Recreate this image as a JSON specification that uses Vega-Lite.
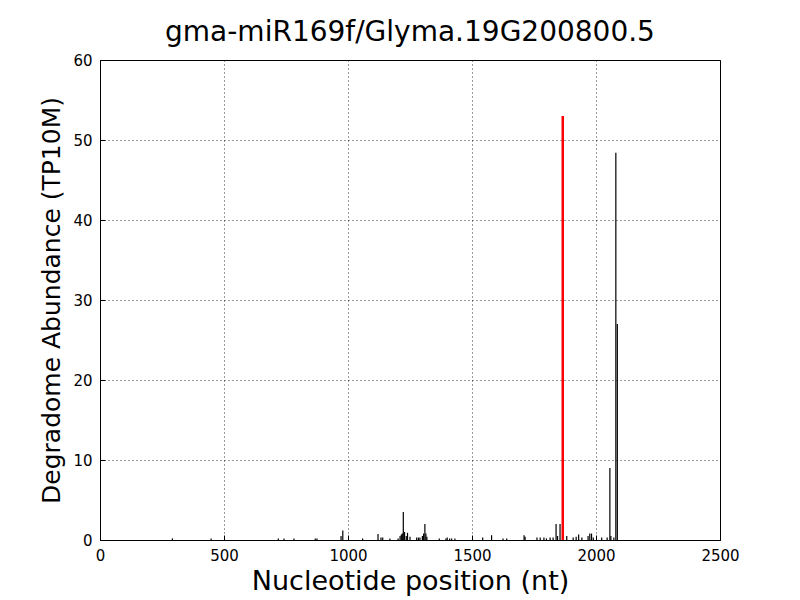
{
  "$schema": "https://vega.github.io/schema/vega-lite/v6.json",
  "width": 620,
  "height": 480,
  "autosize": {"type": "none"},
  "padding": {"left": 100, "top": 60, "right": 80, "bottom": 60},
  "background": "white",
  "title": {"text": "gma-miR169f/Glyma.19G200800.5", "font": "DejaVu Sans", "fontSize": 28, "fontWeight": "normal", "color": "black", "offset": 6},
  "config": {
    "view": {"stroke": "black", "strokeWidth": 1},
    "axis": {"labelFont": "DejaVu Sans", "titleFont": "DejaVu Sans", "labelFontSize": 15, "titleFontSize": 25, "titleFontWeight": "normal", "labelColor": "black", "titleColor": "black", "domainColor": "black", "tickColor": "black", "tickSize": -5, "gridColor": "black", "gridDash": [1, 3], "gridOpacity": 1, "gridWidth": 0.8, "labelPadding": 13, "labelFlush": false}
  },
  "datasets": {
    "black": [
      {"pos": 292, "val": 0.2}, {"pos": 448, "val": 0.2}, {"pos": 719, "val": 0.2}, {"pos": 742, "val": 0.2},
      {"pos": 782, "val": 0.2}, {"pos": 868, "val": 0.2}, {"pos": 875, "val": 0.2}, {"pos": 972, "val": 0.5},
      {"pos": 979, "val": 1.2}, {"pos": 1059, "val": 0.2}, {"pos": 1121, "val": 0.75}, {"pos": 1133, "val": 0.3},
      {"pos": 1140, "val": 0.3}, {"pos": 1169, "val": 0.2}, {"pos": 1202, "val": 0.2}, {"pos": 1210, "val": 0.5},
      {"pos": 1215, "val": 0.7}, {"pos": 1219, "val": 0.8}, {"pos": 1223, "val": 3.5}, {"pos": 1228, "val": 1.0},
      {"pos": 1235, "val": 0.5}, {"pos": 1240, "val": 0.9}, {"pos": 1250, "val": 0.4}, {"pos": 1277, "val": 0.3},
      {"pos": 1284, "val": 0.3}, {"pos": 1290, "val": 0.3}, {"pos": 1300, "val": 0.5}, {"pos": 1305, "val": 0.8},
      {"pos": 1310, "val": 2.0}, {"pos": 1314, "val": 0.8}, {"pos": 1318, "val": 0.4}, {"pos": 1368, "val": 0.2},
      {"pos": 1395, "val": 0.2}, {"pos": 1400, "val": 0.3}, {"pos": 1410, "val": 0.2}, {"pos": 1418, "val": 0.2},
      {"pos": 1431, "val": 0.2}, {"pos": 1543, "val": 0.3}, {"pos": 1579, "val": 0.6}, {"pos": 1625, "val": 0.2},
      {"pos": 1640, "val": 0.2}, {"pos": 1710, "val": 0.6}, {"pos": 1714, "val": 0.4}, {"pos": 1762, "val": 0.3},
      {"pos": 1775, "val": 0.3}, {"pos": 1790, "val": 0.3}, {"pos": 1800, "val": 0.2}, {"pos": 1815, "val": 0.3},
      {"pos": 1827, "val": 0.3}, {"pos": 1839, "val": 2.0}, {"pos": 1845, "val": 0.5}, {"pos": 1855, "val": 2.0},
      {"pos": 1882, "val": 0.5}, {"pos": 1908, "val": 0.3}, {"pos": 1920, "val": 0.4}, {"pos": 1930, "val": 0.7},
      {"pos": 1943, "val": 0.3}, {"pos": 1968, "val": 0.5}, {"pos": 1975, "val": 0.8}, {"pos": 1982, "val": 0.8},
      {"pos": 1989, "val": 0.3}, {"pos": 2023, "val": 0.3}, {"pos": 2045, "val": 0.3}, {"pos": 2056, "val": 9.0},
      {"pos": 2060, "val": 0.5}, {"pos": 2072, "val": 0.3}, {"pos": 2080, "val": 48.4}, {"pos": 2086, "val": 27.0}
    ],
    "red": [{"pos": 1866, "val": 53.0}]
  },
  "layer": [
    {
      "data": {"name": "black"},
      "mark": {"type": "rule", "color": "black", "strokeWidth": 1.2},
      "encoding": {
        "x": {"field": "pos", "type": "quantitative", "scale": {"domain": [0, 2500], "nice": false}, "axis": {"title": "Nucleotide position (nt)", "titleFontSize": 27, "values": [0, 500, 1000, 1500, 2000, 2500], "format": "d", "titlePadding": 5}},
        "y": {"field": "val", "type": "quantitative", "scale": {"domain": [0, 60], "nice": false}, "axis": {"title": "Degradome Abundance (TP10M)", "values": [0, 10, 20, 30, 40, 50, 60], "format": "d", "titlePadding": 8}},
        "y2": {"datum": 0}
      }
    },
    {
      "data": {"name": "red"},
      "mark": {"type": "rule", "color": "red", "strokeWidth": 2.5},
      "encoding": {
        "x": {"field": "pos", "type": "quantitative"},
        "y": {"field": "val", "type": "quantitative"},
        "y2": {"datum": 0}
      }
    }
  ]
}
